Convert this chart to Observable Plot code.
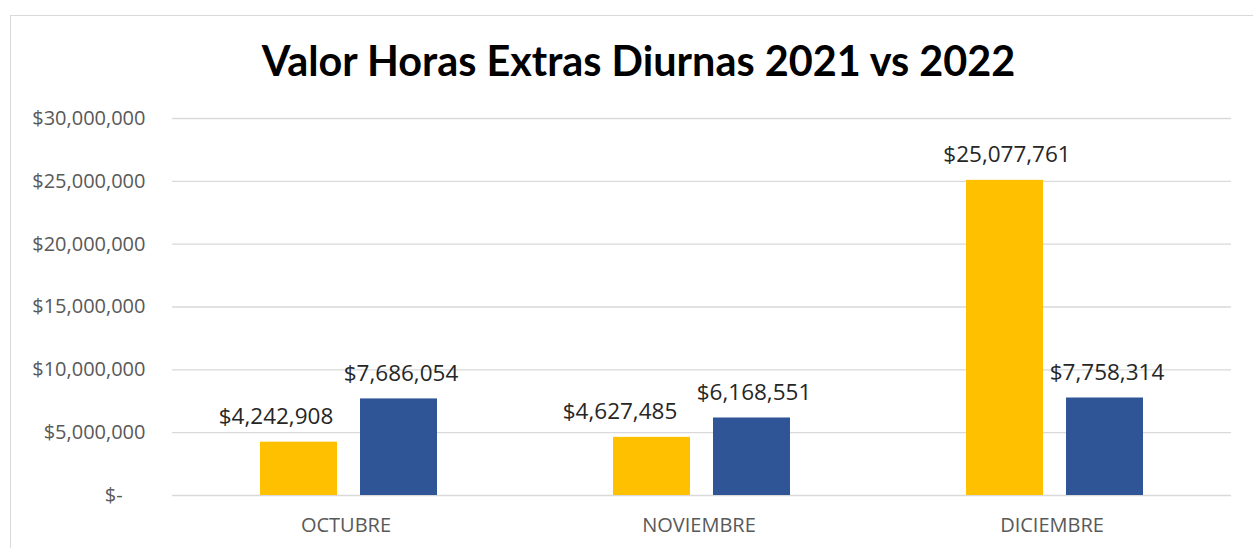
<!DOCTYPE html>
<html>
<head>
<meta charset="utf-8">
<script src="https://cdn.jsdelivr.net/npm/d3@7"></script>
<script src="https://cdn.jsdelivr.net/npm/@observablehq/plot@0.6"></script>
<style>
  html, body { margin: 0; padding: 0; background: #fff; }
  #wrap { position: relative; width: 1253px; height: 548px; overflow: hidden; background: #fff; }
  #frame { position: absolute; left: 10px; top: 15px; width: 1300px; height: 600px; border: 1.5px solid #d9d9d9; box-sizing: border-box; }
  #title { position: absolute; left: 0; top: 40px; width: 1277px; text-align: center; font-family: Lato, "Open Sans", sans-serif; font-weight: 700; font-size: 41.4px; line-height: 41.4px; color: #000; white-space: nowrap; }
  #chart { position: absolute; left: 0; top: 100px; }
</style>
</head>
<body>
<div id="wrap">
  <div id="frame"></div>
  <div id="title"></div>
  <div id="chart"></div>
</div>
<script>
const title = "Valor Horas Extras Diurnas 2021 vs 2022";
const categories = ["OCTUBRE", "NOVIEMBRE", "DICIEMBRE"];
const years = ["2021", "2022"];
const values2021 = [4242908, 4627485, 25077761];
const values2022 = [7686054, 6168551, 7758314];
const yTicks = [0, 5000000, 10000000, 15000000, 20000000, 25000000, 30000000];
const colors = ["#FFC000", "#2F5597"];

document.getElementById("title").textContent = title;

const data = categories.flatMap((c, i) => [
  {cat: c, year: years[0], value: values2021[i]},
  {cat: c, year: years[1], value: values2022[i]}
]);

const money = v => v === 0 ? "$-\u2007\u2007" : "$" + d3.format(",")(v);

// label horizontal nudges (style, as in the reference layout)
const nudge = {"OCTUBRE|2021": -23, "NOVIEMBRE|2021": -32};

const labelMarks = data.map(d => Plot.text([d], {
  fx: "cat", x: "year", y: "value",
  text: d => money(d.value),
  lineAnchor: "bottom", dy: -18,
  dx: nudge[d.cat + "|" + d.year] ?? 2,
  fontSize: 22.5, fill: "#262626", letterSpacing: 1
}));

const chart = Plot.plot({
  width: 1253, height: 448,
  marginLeft: 172, marginRight: 22, marginTop: 18, marginBottom: 53,
  style: {fontFamily: "'Open Sans', sans-serif", background: "transparent", overflow: "visible"},
  fx: {domain: categories, padding: 0, label: null, axis: null},
  x: {domain: years, paddingInner: 0.23, paddingOuter: 0.88, axis: null},
  y: {domain: [0, 30000000], axis: null},
  color: {domain: years, range: colors},
  marks: [
    Plot.ruleY(yTicks, {stroke: "#d9d9d9", strokeWidth: 1.3}),
    Plot.barY(data, {fx: "cat", x: "year", y: "value", fill: "year"}),
    ...labelMarks,
    Plot.axisY({ticks: yTicks, tickSize: 0, tickPadding: 27, tickFormat: money, fontSize: 20, fill: "#595959", label: null}),
    Plot.axisFx({anchor: "bottom", tickSize: 0, tickPadding: 22, fontSize: 20, fill: "#595959", label: null, dx: -3})
  ]
});
document.getElementById("chart").appendChild(chart);
</script>
</body>
</html>
